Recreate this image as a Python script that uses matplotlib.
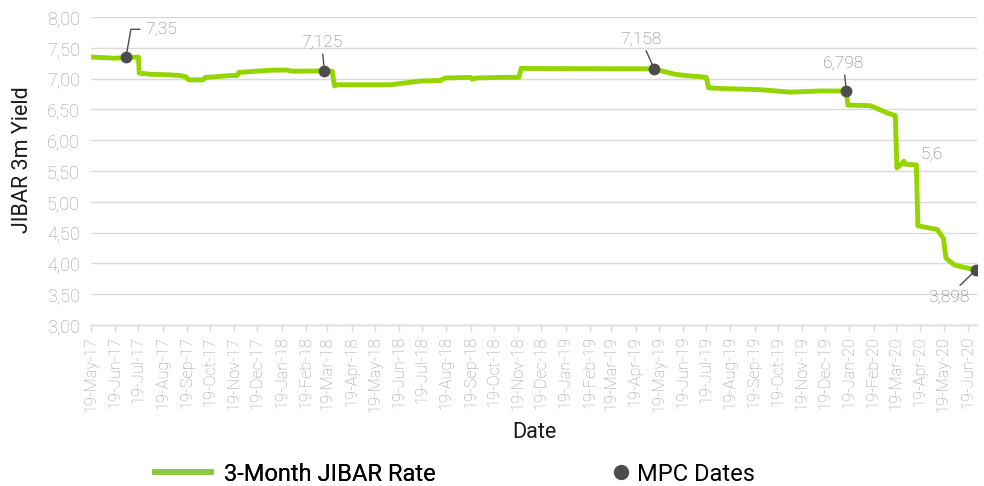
import matplotlib
matplotlib.use("Agg")
import matplotlib.pyplot as plt
import matplotlib.dates as mdates
from matplotlib.lines import Line2D
from matplotlib.ticker import FuncFormatter, MultipleLocator
import numpy as np
import pandas as pd

plt.rcParams['font.family'] = ['Roboto', 'DejaVu Sans']

# 3-Month JIBAR series
jibar_dates = [
    "2017-05-19", "2017-06-06", "2017-06-19", "2017-06-28", "2017-07-19", "2017-07-20",
    "2017-08-03", "2017-08-29", "2017-09-10", "2017-09-18", "2017-09-21", "2017-10-10",
    "2017-10-13", "2017-10-26", "2017-11-14", "2017-11-23", "2017-11-25", "2017-12-16",
    "2018-01-04", "2018-01-24", "2018-02-02", "2018-03-15", "2018-03-25", "2018-03-28",
    "2018-04-01", "2018-06-08", "2018-06-27", "2018-07-16", "2018-08-11", "2018-08-17",
    "2018-09-19", "2018-09-21", "2018-09-26", "2018-10-27", "2018-11-20", "2018-11-23",
    "2019-05-13", "2019-05-27", "2019-06-09", "2019-06-22", "2019-07-11", "2019-07-19",
    "2019-07-22", "2019-08-06", "2019-09-26", "2019-10-16", "2019-11-04", "2019-11-24",
    "2019-12-13", "2020-01-15", "2020-01-17", "2020-02-15", "2020-02-28", "2020-03-08",
    "2020-03-18", "2020-03-20", "2020-03-25", "2020-03-29", "2020-03-31", "2020-04-14",
    "2020-04-16", "2020-05-11", "2020-05-19", "2020-05-22", "2020-05-28", "2020-06-03",
    "2020-06-16", "2020-06-30",
]
jibar_values = [
    7.35, 7.34, 7.33, 7.34, 7.35, 7.09,
    7.07, 7.06, 7.05, 7.03, 6.98, 6.98,
    7.02, 7.03, 7.05, 7.05, 7.10, 7.12,
    7.135, 7.14, 7.12, 7.125, 7.12, 6.88,
    6.90, 6.90, 6.93, 6.96, 6.97, 7.01,
    7.02, 6.99, 7.01, 7.02, 7.02, 7.165,
    7.158, 7.11, 7.07, 7.05, 7.03, 7.02,
    6.85, 6.84, 6.82, 6.80, 6.78, 6.79,
    6.80, 6.798, 6.57, 6.56, 6.49, 6.44,
    6.40, 5.55, 5.60, 5.66, 5.61, 5.60,
    4.61, 4.55, 4.40, 4.09, 4.02, 3.97,
    3.93, 3.898,
]

# MPC dates (markers)
mpc_dates = ["2017-07-03", "2018-03-15", "2019-05-13", "2020-01-15", "2020-06-30"]
mpc_values = [7.35, 7.125, 7.158, 6.798, 3.898]
mpc_labels = ["7,35", "7,125", "7,158", "6,798", "3,898"]

# extra label without marker
extra_label_date = "2020-04-14"
extra_label_value = 5.6
extra_label_text = "5,6"

line_color = "#94d500"
legend_line_color = "#8dc63f"
dot_color = "#4d4d4f"
label_color = "#767676"
tick_color = "#999999"
grid_color = "#d9d9d9"

fig = plt.figure(figsize=(9.84, 4.86), dpi=100)
ax = fig.add_axes([91/984, 1 - 325/486, (977 - 91)/984, (325 - 17)/486])

jd = pd.to_datetime(jibar_dates)
md = pd.to_datetime(mpc_dates)

ax.plot(jd, jibar_values, color=line_color, lw=3.5, solid_joinstyle='round', zorder=3)
ax.plot(md, mpc_values, 'o', color=dot_color, ms=8.5, zorder=4, markeredgewidth=0)

ax.set_ylim(3.0, 8.0)
ax.set_xlim(pd.Timestamp("2017-05-19"), pd.Timestamp("2020-07-01"))
ax.yaxis.set_major_locator(MultipleLocator(0.5))
ax.yaxis.set_major_formatter(FuncFormatter(lambda v, p: f"{v:.2f}".replace('.', ',')))
ax.grid(axis='y', color=grid_color, lw=1.0, zorder=0)
ax.set_axisbelow(True)

ax.xaxis.set_major_locator(mdates.MonthLocator(bymonthday=19))
ax.xaxis.set_major_formatter(mdates.DateFormatter('%d-%b-%y'))

for s in ['left', 'right', 'top']:
    ax.spines[s].set_visible(False)
ax.spines['bottom'].set_color(grid_color)
ax.spines['bottom'].set_linewidth(1.0)
ax.tick_params(axis='x', colors=grid_color, length=5, width=1, labelcolor=tick_color,
               labelsize=11.7, pad=3)
ax.tick_params(axis='y', length=0, labelcolor=tick_color, labelsize=13, pad=8)
for lab in ax.get_xticklabels():
    lab.set_rotation(90)
    lab.set_fontweight('light')
for lab in ax.get_yticklabels():
    lab.set_fontweight('light')

ax.set_ylabel("JIBAR 3m Yield", fontsize=15.5, color="#1a1a1a")
ax.yaxis.set_label_coords(-0.066, (325 - 160) / (325 - 17))
ax.set_xlabel("Date", fontsize=15.5, color="#1a1a1a", labelpad=7)

# data labels with leader lines (offsets in points)
offsets = [(14, 20), (-2, 15), (-9.5, 16), (-2, 14.5), (-20, -14)]
has_elbow = [True, False, False, False, False]
for d, v, t, (dx, dy), elb in zip(md, mpc_values, mpc_labels, offsets, has_elbow):
    if elb:
        ax.annotate(t, xy=(d, v), xytext=(dx, dy), textcoords='offset points',
                    fontsize=12.5, color=label_color, ha='left', va='center',
                    fontweight='light',
                    arrowprops=dict(arrowstyle='-', color=dot_color, lw=1.0,
                                    shrinkA=2, shrinkB=0,
                                    connectionstyle="angle,angleA=0,angleB=80,rad=0"))
    else:
        ax.annotate(t, xy=(d, v), xytext=(dx, dy), textcoords='offset points',
                    fontsize=12.5, color=label_color, ha='center',
                    va='bottom' if dy > 0 else 'top', fontweight='light',
                    arrowprops=dict(arrowstyle='-', color=dot_color, lw=1.0,
                                    shrinkA=1, shrinkB=0))

ax.annotate(extra_label_text, xy=(pd.Timestamp(extra_label_date), extra_label_value),
            xytext=(3, 2), textcoords='offset points', fontsize=12.5,
            color=label_color, ha='left', va='bottom', fontweight='light')

fs_leg = 17
em = fs_leg * 100 / 72
leg1 = fig.legend([Line2D([], [], color=legend_line_color, lw=4)], ["3-Month JIBAR Rate"],
                  loc='center left', bbox_to_anchor=(155/984, 1 - 474/486), frameon=False,
                  fontsize=fs_leg, handlelength=56/em, handletextpad=13/em,
                  borderpad=0, borderaxespad=0)
leg2 = fig.legend([Line2D([], [], marker='o', ls='none', color=dot_color, ms=10)], ["MPC Dates"],
                  loc='center left', bbox_to_anchor=(613/984, 1 - 474/486), frameon=False,
                  fontsize=fs_leg, handlelength=16/em, handletextpad=8/em,
                  borderpad=0, borderaxespad=0)
fig.add_artist(leg1)

fig.savefig("out.png", dpi=100)
